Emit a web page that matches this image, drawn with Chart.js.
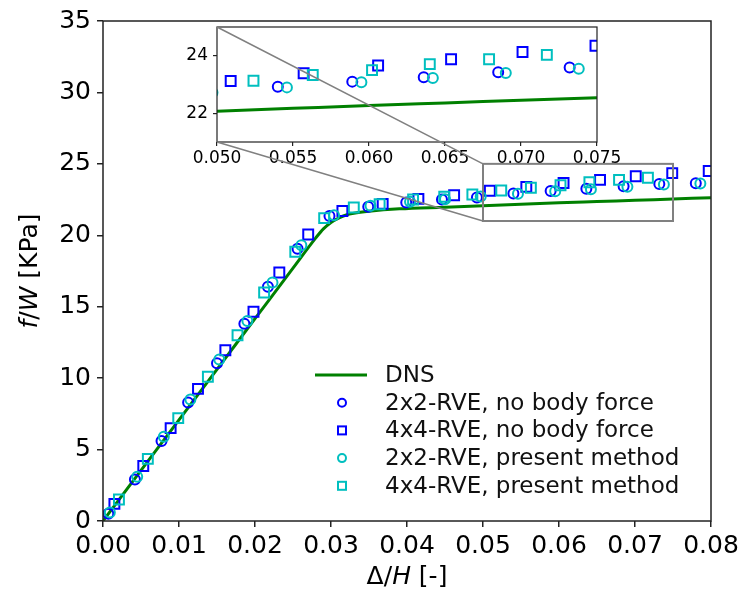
<!DOCTYPE html>
<html>
<head>
<meta charset="utf-8">
<script src="https://cdn.jsdelivr.net/npm/chart.js@4.4.1/dist/chart.umd.min.js"></script>
<style>
  body { margin: 0; background: #fff; }
  #wrap { position: relative; width: 749px; height: 591px; }
  #wrap canvas { position: absolute; left: 0; top: 0; }
</style>
</head>
<body>
<div id="wrap">
  <canvas id="mainChart" width="749" height="591"></canvas>
  <canvas id="insetChart" width="749" height="591"></canvas>
</div>
<script>
// DNS reference curve
var dnsX = [0, 0.005, 0.010, 0.015, 0.020, 0.025, 0.028, 0.029, 0.030, 0.031, 0.032, 0.033, 0.035, 0.039, 0.045, 0.050, 0.055, 0.060, 0.065, 0.070, 0.075, 0.080];
var dnsY = [0, 3.54, 7.08, 10.62, 14.16, 17.70, 19.82, 20.45, 20.90, 21.20, 21.42, 21.54, 21.68, 21.85, 21.97, 22.07, 22.17, 22.27, 22.36, 22.45, 22.54, 22.63];

// 2x2-RVE, no body force
var c2NoBfX = [0.0007, 0.0042, 0.0077, 0.0112, 0.0150, 0.0186, 0.0217, 0.0256, 0.0298, 0.0349, 0.0399, 0.0446, 0.0492, 0.0540, 0.0589, 0.0636, 0.0685, 0.0732, 0.0780];
var c2NoBfY = [0.5, 2.9, 5.6, 8.3, 11.05, 13.8, 16.4, 19.05, 21.35, 22.0, 22.3, 22.5, 22.65, 22.92, 23.1, 23.25, 23.43, 23.59, 23.65];

// 4x4-RVE, no body force
var c4NoBfX = [0.0015, 0.0053, 0.0089, 0.0125, 0.0161, 0.0198, 0.0232, 0.0270, 0.0315, 0.0368, 0.0415, 0.0462, 0.0509, 0.0557, 0.0606, 0.0654, 0.0701, 0.0749, 0.0797];
var c4NoBfY = [1.2, 3.85, 6.5, 9.25, 11.95, 14.65, 17.4, 20.05, 21.7, 22.2, 22.55, 22.8, 23.12, 23.39, 23.66, 23.88, 24.13, 24.35, 24.5];

// 2x2-RVE, present method
var c2PresX = [0.0009, 0.0045, 0.0080, 0.0115, 0.0153, 0.0190, 0.0223, 0.0261, 0.0304, 0.0352, 0.0404, 0.0450, 0.0497, 0.0546, 0.0595, 0.0642, 0.0690, 0.0738, 0.0786];
var c2PresY = [0.6, 3.1, 5.9, 8.5, 11.3, 14.0, 16.7, 19.3, 21.4, 22.06, 22.34, 22.52, 22.72, 22.9, 23.08, 23.23, 23.4, 23.55, 23.62];

// 4x4-RVE, present method
var c4PresX = [0.0021, 0.0059, 0.0099, 0.0138, 0.0177, 0.0212, 0.0253, 0.0291, 0.0330, 0.0364, 0.0408, 0.0449, 0.0486, 0.0524, 0.0563, 0.0602, 0.0640, 0.0679, 0.0717];
var c4PresY = [1.5, 4.35, 7.2, 10.1, 13.0, 16.0, 18.85, 21.2, 21.95, 22.17, 22.5, 22.7, 22.85, 23.13, 23.33, 23.5, 23.71, 23.88, 24.03];

var seriesNames = ["DNS", "2x2-RVE, no body force", "4x4-RVE, no body force", "2x2-RVE, present method", "4x4-RVE, present method"];

var xTicks = [0, 0.01, 0.02, 0.03, 0.04, 0.05, 0.06, 0.07, 0.08];
var yTicks = [0, 5, 10, 15, 20, 25, 30, 35];
var insetXTicks = [0.050, 0.055, 0.060, 0.065, 0.070, 0.075];
var insetYTicks = [22, 24];

// zoomed window shown in the inset
var zoomX = [0.05, 0.075];
var zoomY = [21, 25];

Chart.defaults.font.family = "'DejaVu Sans', sans-serif";
Chart.defaults.color = "#000";

var GREEN = "#008000", BLUE = "#0000ff", CYAN = "#00bfbf", GRAY = "#808080", AXIS = "#222";

function toPoints(xs, ys) {
	return xs.map(function(x, i){ return {x: x, y: ys[i]}; });
}

function makeDatasets() {
	var marker = function(label, xs, ys, color, style, r, order){
		return {
			label: label, data: toPoints(xs, ys), showLine: false,
			pointStyle: style, pointRadius: r, pointBorderWidth: 2,
			pointBorderColor: color, pointBackgroundColor: "rgba(0,0,0,0)",
			pointHoverRadius: r, order: order, clip: 0
		};
	};
	return [
		{
			label: seriesNames[0], data: toPoints(dnsX, dnsY), showLine: true,
			borderColor: GREEN, borderWidth: 3, pointRadius: 0, pointHoverRadius: 0,
			cubicInterpolationMode: "monotone", order: 5, clip: 0
		},
		marker(seriesNames[1], c2NoBfX, c2NoBfY, BLUE, "circle", 5, 4),
		marker(seriesNames[2], c4NoBfX, c4NoBfY, BLUE, "rect", 7, 3),
		marker(seriesNames[3], c2PresX, c2PresY, CYAN, "circle", 5, 2),
		marker(seriesNames[4], c4PresX, c4PresY, CYAN, "rect", 7, 1)
	];
}

function setTicks(list) {
	return function(scale){ scale.ticks = list.map(function(v){ return {value: v}; }); };
}

// text with mixed upright / italic runs, centred on (cx, cy)
function drawRich(ctx, parts, cx, cy, size) {
	var total = 0;
	parts.forEach(function(p){
		ctx.font = (p[1] ? "italic " : "") + size + "px 'DejaVu Sans'";
		total += ctx.measureText(p[0]).width;
	});
	var x = cx - total / 2;
	ctx.textAlign = "left";
	ctx.textBaseline = "middle";
	ctx.fillStyle = "#000";
	parts.forEach(function(p){
		ctx.font = (p[1] ? "italic " : "") + size + "px 'DejaVu Sans'";
		ctx.fillText(p[0], x, cy);
		x += ctx.measureText(p[0]).width;
	});
}

function strokeFrame(ctx, area, color, width) {
	ctx.save();
	ctx.strokeStyle = color;
	ctx.lineWidth = width;
	ctx.strokeRect(area.left, area.top, area.right - area.left, area.bottom - area.top);
	ctx.restore();
}

var mainDecor = {
	id: "mainDecor",
	afterDatasetsDraw: function(chart){
		var ctx = chart.ctx, sx = chart.scales.x, sy = chart.scales.y;
		// box around the zoomed region
		ctx.save();
		ctx.strokeStyle = GRAY;
		ctx.lineWidth = 2;
		var l = sx.getPixelForValue(zoomX[0]), r = sx.getPixelForValue(zoomX[1]);
		var t = sy.getPixelForValue(zoomY[1]), b = sy.getPixelForValue(zoomY[0]);
		ctx.strokeRect(l, t, r - l, b - t);
		ctx.restore();
		strokeFrame(ctx, chart.chartArea, AXIS, 1.5);
	},
	afterDraw: function(chart){
		var ctx = chart.ctx, area = chart.chartArea;
		ctx.save();
		// axis titles
		drawRich(ctx, [["\u0394/", false], ["H", true], [" [-]", false]], (area.left + area.right) / 2, 577, 25);
		ctx.translate(30, (area.top + area.bottom) / 2);
		ctx.rotate(-Math.PI / 2);
		drawRich(ctx, [["f", true], ["/", false], ["W", true], [" [KPa]", false]], 0, 0, 25);
		ctx.restore();

		// legend
		var top = 375, gap = 27.7, symX = 342, textX = 385;
		ctx.save();
		ctx.font = "23px 'DejaVu Sans'";
		ctx.textAlign = "left";
		ctx.textBaseline = "middle";
		seriesNames.forEach(function(name, i){
			var y = top + i * gap;
			ctx.lineWidth = 2;
			if (i == 0) {
				ctx.strokeStyle = GREEN;
				ctx.lineWidth = 3;
				ctx.beginPath();
				ctx.moveTo(315, y);
				ctx.lineTo(367, y);
				ctx.stroke();
			} else {
				ctx.strokeStyle = (i < 3) ? BLUE : CYAN;
				if (i % 2 == 1) {
					ctx.beginPath();
					ctx.arc(symX, y, 4, 0, Math.PI * 2);
					ctx.stroke();
				} else {
					ctx.strokeRect(symX - 4, y - 4, 8, 8);
				}
			}
			ctx.fillStyle = "#111";
			ctx.fillText(name, textX, y + 1);
		});
		ctx.restore();
	}
};

var mainChart = new Chart(document.getElementById("mainChart"), {
	type: "scatter",
	data: { datasets: makeDatasets() },
	options: {
		responsive: false, animation: false, devicePixelRatio: 1,
		layout: { padding: { left: 0, right: 38, top: 17, bottom: 0 } },
		plugins: { legend: { display: false }, tooltip: { enabled: false } },
		scales: {
			x: {
				type: "linear", min: 0, max: 0.08,
				afterFit: function(s){ s.height = 70; },
				afterBuildTicks: setTicks(xTicks),
				ticks: { callback: function(v){ return v.toFixed(2); }, font: { size: 25 }, color: "#000", padding: 4, maxRotation: 0, autoSkip: false },
				grid: { drawOnChartArea: false, tickLength: 6, color: AXIS, lineWidth: 1.5 },
				border: { display: false }
			},
			y: {
				type: "linear", min: 0, max: 35,
				afterFit: function(s){ s.width = 103; },
				afterBuildTicks: setTicks(yTicks),
				ticks: { callback: function(v){ return v.toString(); }, font: { size: 25 }, color: "#000", padding: 6, autoSkip: false },
				grid: { drawOnChartArea: false, tickLength: 6, color: AXIS, lineWidth: 1.5 },
				border: { display: false }
			}
		}
	},
	plugins: [mainDecor]
});

var insetDecor = {
	id: "insetDecor",
	beforeDraw: function(chart){
		var a = chart.chartArea, ctx = chart.ctx;
		ctx.save();
		ctx.fillStyle = "#fff";
		ctx.fillRect(a.left, a.top, a.right - a.left, a.bottom - a.top);
		ctx.restore();
	},
	afterDraw: function(chart){
		var a = chart.chartArea, ctx = chart.ctx;
		strokeFrame(ctx, a, AXIS, 1.2);
		// connectors from the inset corners to the zoom box
		var sx = mainChart.scales.x, sy = mainChart.scales.y;
		var bx = sx.getPixelForValue(zoomX[0]);
		ctx.save();
		ctx.strokeStyle = GRAY;
		ctx.lineWidth = 1.5;
		ctx.beginPath();
		ctx.moveTo(a.left, a.top);
		ctx.lineTo(bx, sy.getPixelForValue(zoomY[1]));
		ctx.moveTo(a.left, a.bottom);
		ctx.lineTo(bx, sy.getPixelForValue(zoomY[0]));
		ctx.stroke();
		ctx.restore();
	}
};

var insetChart = new Chart(document.getElementById("insetChart"), {
	type: "scatter",
	data: { datasets: makeDatasets() },
	options: {
		responsive: false, animation: false, devicePixelRatio: 1,
		layout: { padding: { left: 0, right: 152, top: 27, bottom: 0 } },
		plugins: { legend: { display: false }, tooltip: { enabled: false } },
		scales: {
			x: {
				type: "linear", min: zoomX[0], max: zoomX[1],
				afterFit: function(s){ s.height = 449; },
				afterBuildTicks: setTicks(insetXTicks),
				ticks: { callback: function(v){ return v.toFixed(3); }, font: { size: 17 }, color: "#000", padding: 2, maxRotation: 0, autoSkip: false },
				grid: { drawOnChartArea: false, tickLength: 4, color: AXIS, lineWidth: 1.2 },
				border: { display: false }
			},
			y: {
				type: "linear", min: zoomY[0], max: zoomY[1],
				afterFit: function(s){ s.width = 217; },
				afterBuildTicks: setTicks(insetYTicks),
				ticks: { callback: function(v){ return v.toString(); }, font: { size: 17 }, color: "#000", padding: 5, autoSkip: false },
				grid: { drawOnChartArea: false, tickLength: 4, color: AXIS, lineWidth: 1.2 },
				border: { display: false }
			}
		}
	},
	plugins: [insetDecor]
});
</script>
</body>
</html>
